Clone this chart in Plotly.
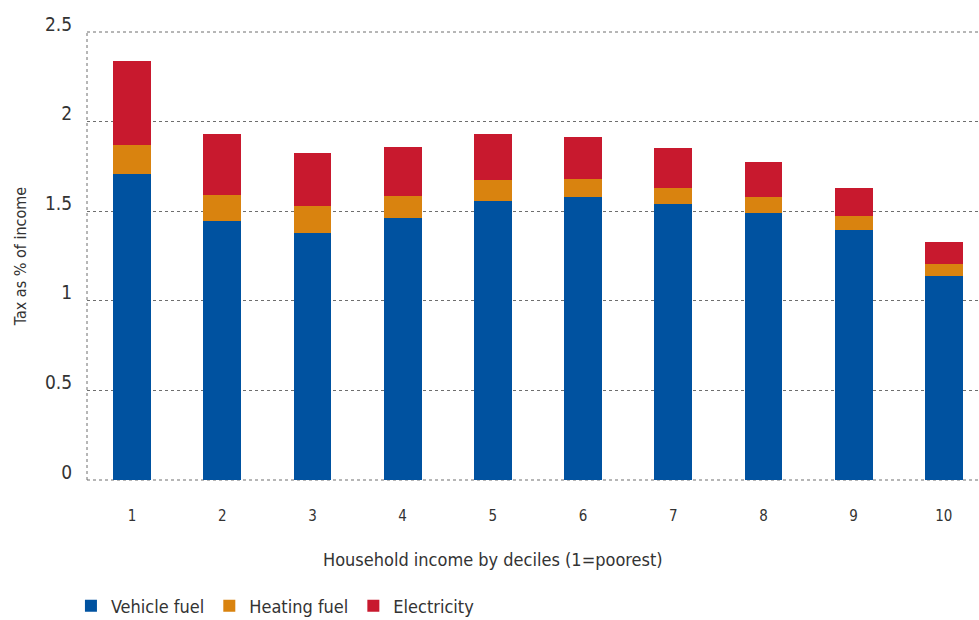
import plotly.graph_objects as go

# Household income deciles (1 = poorest)
deciles = ["1", "2", "3", "4", "5", "6", "7", "8", "9", "10"]

# Tax as % of household income, by energy type
vehicle_fuel = [1.708, 1.446, 1.379, 1.463, 1.558, 1.580, 1.541, 1.491, 1.396, 1.140]
heating_fuel = [0.162, 0.145, 0.151, 0.123, 0.117, 0.100, 0.090, 0.089, 0.078, 0.067]
electricity = [0.468, 0.341, 0.296, 0.273, 0.256, 0.235, 0.223, 0.195, 0.156, 0.123]

y_ticks = [0, 0.5, 1, 1.5, 2, 2.5]
y_tick_text = ["0", "0.5", "1", "1.5", "2", "2.5"]

FONT = "DejaVu Sans Condensed, Liberation Sans Narrow, sans-serif"
TEXT = "#333333"
GRID = "#6e6e6e"

series = [
    ("Vehicle fuel", vehicle_fuel, "#0052a0"),
    ("Heating fuel", heating_fuel, "#d9830f"),
    ("Electricity", electricity, "#c8192e"),
]

fig = go.Figure()
for name, vals, color in series:
    fig.add_trace(go.Bar(
        x=deciles, y=vals, name=name,
        marker=dict(color=color, line=dict(width=0)),
        width=0.42,
    ))

fig.update_layout(
    width=979, height=620,
    barmode="stack",
    paper_bgcolor="white", plot_bgcolor="white",
    margin=dict(l=87, r=0, t=32, b=140, autoexpand=False),
    font=dict(family=FONT, color=TEXT, size=17),
    showlegend=True,
    legend=dict(
        orientation="h", x=-0.018, y=-0.24, xanchor="left", yanchor="top",
        font=dict(size=18, color=TEXT), itemsizing="constant",
        itemwidth=30, tracegroupgap=0, traceorder="normal",
    ),
    xaxis=dict(
        type="category",
        range=[-0.5, 9.39],
        automargin=False,
        showgrid=False, zeroline=False, showline=False,
        ticks="outside", ticklen=22, tickcolor="rgba(0,0,0,0)",
        tickfont=dict(size=15, color=TEXT),
    ),
    yaxis=dict(
        range=[0, 2.5],
        automargin=False,
        tickvals=y_ticks, ticktext=y_tick_text,
        showgrid=True, gridcolor=GRID, griddash="dot", gridwidth=1,
        zeroline=False, showline=False,
        ticks="outside", ticklen=10, tickcolor="rgba(0,0,0,0)",
        ticklabelshift=-8,
        tickfont=dict(size=19, color=TEXT),
        title=dict(text="Tax as % of income", font=dict(size=16, color=TEXT), standoff=14),
    ),
)

# X-axis title, centred on the page rather than on the plot area
fig.add_annotation(
    text="Household income by deciles (1=poorest)",
    xref="paper", yref="paper", x=0.455, y=-0.178,
    xanchor="center", yanchor="middle", showarrow=False,
    font=dict(size=18, color=TEXT),
)

# Dotted frame: left edge, top edge and baseline
for x0, x1, y0, y1 in [(0, 0, 0, 1), (0, 1, 1, 1), (0, 1, 0, 0)]:
    fig.add_shape(type="line", xref="paper", yref="paper", x0=x0, x1=x1, y0=y0, y1=y1,
                  line=dict(color=GRID, width=1, dash="dot"), layer="below")

fig.write_html("out.html")
